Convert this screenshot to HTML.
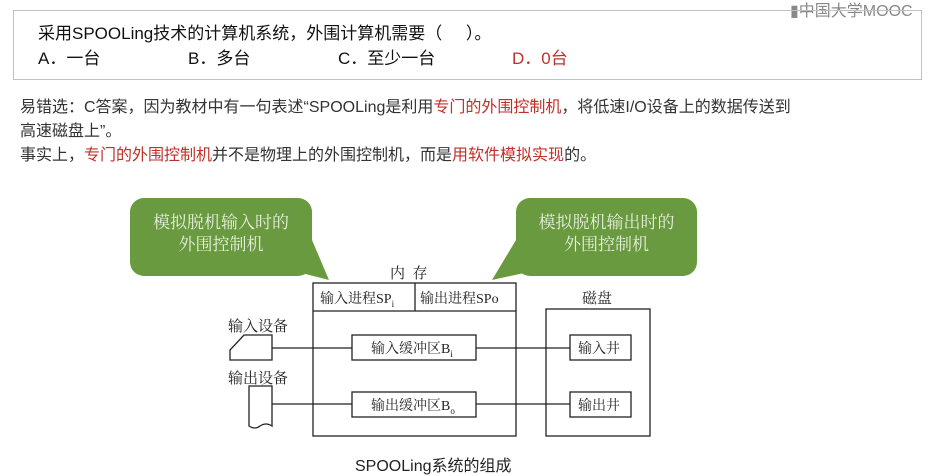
<!DOCTYPE html>
<html><head><meta charset="utf-8"><style>
body{margin:0;width:944px;height:474px;background:#fff;position:relative;overflow:hidden;font-family:"Liberation Sans","Noto Sans CJK SC",sans-serif;}
.a{position:absolute;white-space:nowrap;}
.r{color:#c0302a;}
.s{font-family:"Liberation Serif","Noto Serif CJK SC",serif;}
</style></head><body>
<div class="a" style="left:790px;top:-3px;font-size:16px;color:#888;">▮中国大学MOOC</div>
<div class="a" style="left:13px;top:10px;width:907px;height:68px;border:1px solid #b8c4cc;"></div>
<div class="a" style="left:38px;top:19px;font-size:17px;color:#111;">采用SPOOLing技术的计算机系统，外围计算机需要（&nbsp;&nbsp;&nbsp;&nbsp;&nbsp;）。</div>
<div class="a" style="left:38px;top:44px;font-size:17px;color:#111;">A．一台</div>
<div class="a" style="left:188px;top:44px;font-size:17px;color:#111;">B．多台</div>
<div class="a" style="left:338px;top:44px;font-size:17px;color:#111;">C．至少一台</div>
<div class="a r" style="left:512px;top:44px;font-size:17px;">D．0台</div>
<div class="a" style="left:20px;top:96px;font-size:16px;color:#333;line-height:24px;">易错选：C答案，因为教材中有一句表述“SPOOLing是利用<span class="r">专门的外围控制机</span>，将低速I/O设备上的数据传送到<br>高速磁盘上”。<br>事实上，<span class="r">专门的外围控制机</span>并不是物理上的外围控制机，而是<span class="r">用软件模拟实现</span>的。</div>
<svg class="a" style="left:0;top:0" width="944" height="474">
<g fill="#6a9a3f">
<rect x="130" y="198" width="182" height="78" rx="14"/>
<polygon points="290,270 312,240 329,280"/>
<rect x="516" y="198" width="181" height="78" rx="14"/>
<polygon points="538,270 516,240 492,280"/>
</g>
<g fill="none" stroke="#222" stroke-width="1.3">
<rect x="313" y="283" width="203" height="153"/>
<line x1="313" y1="311" x2="516" y2="311"/>
<line x1="415" y1="283" x2="415" y2="311"/>
<rect x="546" y="309" width="104" height="127"/>
<rect x="352" y="335" width="124" height="25"/>
<rect x="352" y="392" width="124" height="25"/>
<rect x="570" y="335" width="61" height="25"/>
<rect x="570" y="392" width="61" height="25"/>
<line x1="272" y1="348" x2="352" y2="348"/>
<line x1="476" y1="348" x2="570" y2="348"/>
<line x1="272" y1="404" x2="352" y2="404"/>
<line x1="476" y1="404" x2="570" y2="404"/>
<polygon points="230,360 230,350 244,335 272,335 272,360"/>
<path d="M249,386 H272 V426 Q266,422 260,426 Q255,430 249,426 Z"/>
</g>
</svg>
<div class="a s" style="left:130px;top:212px;width:182px;text-align:center;font-size:17px;color:#e6eedd;line-height:22px;">模拟脱机输入时的<br>外围控制机</div>
<div class="a s" style="left:516px;top:212px;width:181px;text-align:center;font-size:17px;color:#e6eedd;line-height:22px;">模拟脱机输出时的<br>外围控制机</div>
<div class="a s" style="left:390px;top:262px;font-size:15px;color:#222;">内&nbsp;&nbsp;存</div>
<div class="a s" style="left:320px;top:288px;font-size:14px;color:#222;">输入进程SP<sub style="font-size:9px">i</sub></div>
<div class="a s" style="left:420px;top:288px;font-size:14px;color:#222;">输出进程SPo</div>
<div class="a s" style="left:582px;top:287px;font-size:15px;color:#222;">磁盘</div>
<div class="a s" style="left:228px;top:315px;font-size:15px;color:#222;">输入设备</div>
<div class="a s" style="left:228px;top:367px;font-size:15px;color:#222;">输出设备</div>
<div class="a s" style="left:371px;top:338px;font-size:14px;color:#222;">输入缓冲区B<sub style="font-size:9px">i</sub></div>
<div class="a s" style="left:371px;top:395px;font-size:14px;color:#222;">输出缓冲区B<sub style="font-size:9px">o</sub></div>
<div class="a s" style="left:578px;top:338px;font-size:14px;color:#222;">输入井</div>
<div class="a s" style="left:578px;top:395px;font-size:14px;color:#222;">输出井</div>
<div class="a" style="left:355px;top:452px;font-size:16px;color:#222;">SPOOLing系统的组成</div>
</body></html>
